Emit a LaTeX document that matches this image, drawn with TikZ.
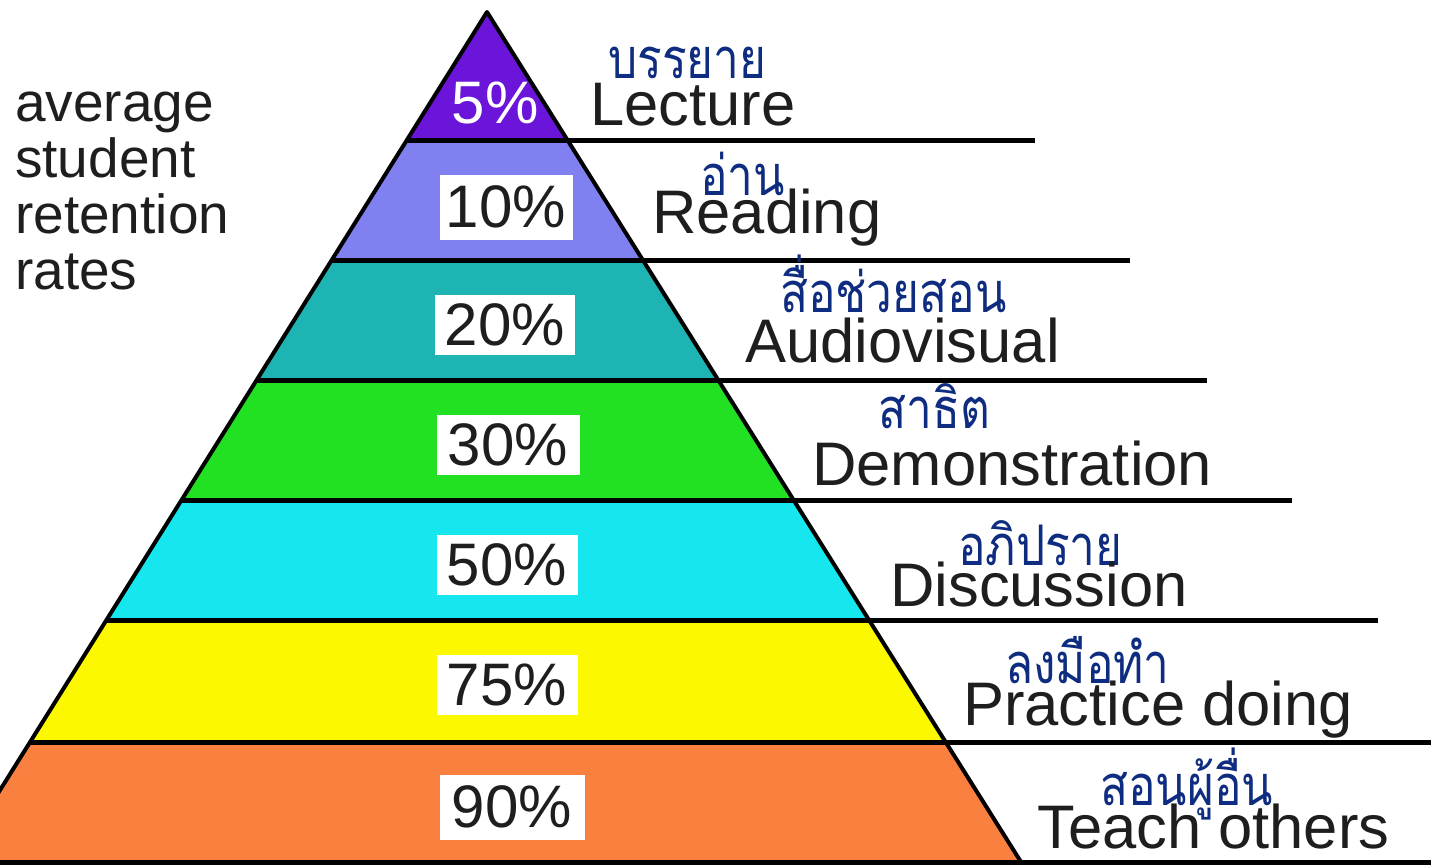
\documentclass[tikz,border=0pt]{standalone}
\usepackage{fontspec}
\setmainfont{Liberation Sans}
\newfontfamily\thai[Script=Thai, FakeStretch=0.82]{Loma}
\definecolor{cTop}{HTML}{6B14DA}
\definecolor{cRead}{HTML}{8080F0}
\definecolor{cAV}{HTML}{1FB4B4}
\definecolor{cDemo}{HTML}{22E022}
\definecolor{cDisc}{HTML}{16E6EE}
\definecolor{cPrac}{HTML}{FCF800}
\definecolor{cTeach}{HTML}{FA803F}
\definecolor{thaiblue}{HTML}{0E2C80}
\definecolor{ink}{HTML}{1E1E1E}
\tikzset{
  eng/.style={anchor=base west, inner sep=0pt, text=ink, font=\fontsize{61.5}{66}\selectfont},
  th/.style={anchor=base west, inner sep=0pt, text=thaiblue, font=\thai\fontsize{56}{60}\selectfont},
  pct/.style={fill=white, text=ink, inner sep=0pt, font=\fontsize{60}{64}\selectfont},
  sep/.style={line width=5pt, draw=black},
  edge/.style={line width=4pt, draw=black, line join=round},
}
\begin{document}
\begin{tikzpicture}[x=1pt,y=-1pt]
\useasboundingbox (0,0) rectangle (1431,865);
\fill[white] (0,0) rectangle (1431,865);
\begin{scope}
\clip (0,0) rectangle (1431,865);
% bands
\fill[cTop]   (487,12) -- (568,140) -- (407,140) -- cycle;
\fill[cRead]  (407,140) -- (568,140) -- (643,260) -- (332,260) -- cycle;
\fill[cAV]    (332,260) -- (643,260) -- (719,380) -- (257,380) -- cycle;
\fill[cDemo]  (257,380) -- (719,380) -- (794,500) -- (182,500) -- cycle;
\fill[cDisc]  (182,500) -- (794,500) -- (870,620) -- (107,620) -- cycle;
\fill[cPrac]  (107,620) -- (870,620) -- (947,742) -- (31,742) -- cycle;
\fill[cTeach] (31,742) -- (947,742) -- (1021,862) -- (-45,862) -- cycle;
% outline
\draw[edge] (-45,862) -- (487,12) -- (1021,862);
% separators
\draw[sep] (407,140) -- (1035,140);
\draw[sep] (332,260) -- (1130,260);
\draw[sep] (257,380) -- (1207,380);
\draw[sep] (182,500) -- (1292,500);
\draw[sep] (107,620) -- (1378,620);
\draw[sep] (31,742) -- (1431,742);
\draw[sep] (0,862) -- (1431,862);
\end{scope}
% percentages
\node[text=white, inner sep=0pt, font=\fontsize{60}{64}\selectfont] (p5) at (495,103) {5\%};
\node[pct, minimum width=133pt, minimum height=65pt] (p10) at (506,207) {10\%};
\node[pct, minimum width=140pt, minimum height=60pt] (p20) at (505,325) {20\%};
\node[pct, minimum width=143pt, minimum height=60pt] (p30) at (508,445) {30\%};
\node[pct, minimum width=141pt, minimum height=60pt] (p50) at (507,565) {50\%};
\node[pct, minimum width=141pt, minimum height=60pt] (p75) at (507,685) {75\%};
\node[pct, minimum width=145pt, minimum height=65pt] (p90) at (512,807) {90\%};
% left caption
\node[anchor=north west, inner sep=0pt, text=ink, align=left,
      font=\fontsize{55}{56}\selectfont] (cap) at (15,92) {average\\student\\retention\\rates};
% labels
\node[th]  (t1) at (608,78)  {บรรยาย};
\node[eng] (e1) at (590,125) {Lecture};
\node[th]  (t2) at (700,195) {อ่าน};
\node[eng] (e2) at (652,233) {Reading};
\node[th]  (t3) at (780,312) {สื่อช่วยสอน};
\node[eng] (e3) at (745,362) {Audiovisual};
\node[th]  (t4) at (878,428) {สาธิต};
\node[eng] (e4) at (812,485) {Demonstration};
\node[th]  (t5) at (958,565) {อภิปราย};
\node[eng] (e5) at (890,606) {Discussion};
\node[th]  (t6) at (1005,683) {ลงมือทำ};
\node[eng] (e6) at (963,725) {Practice doing};
\node[th]  (t7) at (1100,805) {สอนผู้อื่น};
\node[eng] (e7) at (1037,848) {Teach others};
\end{tikzpicture}
\end{document}
